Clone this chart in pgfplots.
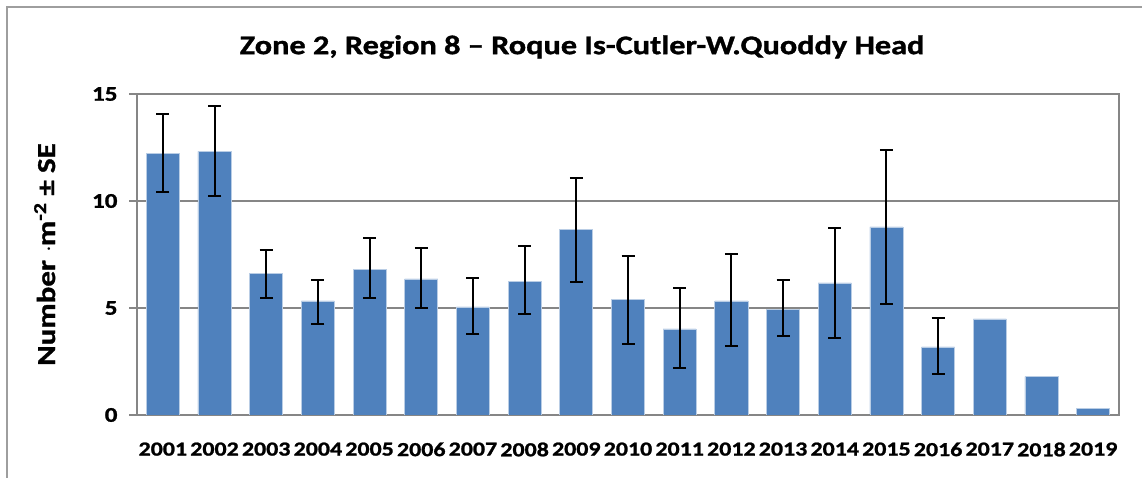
\documentclass[border=0pt]{standalone}
\usepackage{pgfplots}
\pgfplotsset{compat=1.18}
\usepackage{fontspec}
\setmainfont[FakeStretch=1.2, BoldFeatures={FakeBold=1.2}]{Carlito}
\definecolor{barblue}{RGB}{79,129,189}
\definecolor{baredge}{RGB}{185,205,229}
\definecolor{gridgray}{RGB}{134,134,134}
\begin{document}
\begin{tikzpicture}
\path[use as bounding box] (0,0) rectangle (1142bp,478bp);
\draw[gridgray!80, line width=1.5bp] (7bp,0) -- (7bp,471bp) -- (1142bp,471bp);
\node[font=\bfseries\fontsize{27}{31}\selectfont, anchor=center] at (582bp,431bp) {Zone 2, Region 8 – Roque Is-Cutler-W.Quoddy Head};
\begin{axis}[
  at={(137bp,63bp)}, anchor=south west,
  scale only axis, width=982bp, height=321bp,
  xmin=-0.5, xmax=18.5, ymin=0, ymax=15,
  ybar, bar width=0.64, bar shift=0pt,
  xtick={0,...,18},
  xticklabels={2001,2002,2003,2004,2005,2006,2007,2008,2009,2010,2011,2012,2013,2014,2015,2016,2017,2018,2019},
  xtick style={draw=none},
  x tick label style={font=\bfseries\fontsize{20}{24}\selectfont, yshift=-16bp},
  ytick={0,5,10,15},
  ytick pos=left, tick align=outside, major tick length=8bp,
  y tick label style={font=\bfseries\fontsize{21}{25}\selectfont, xshift=-8bp},
  /pgf/number format/assume math mode=true,
  ymajorgrids, grid style={gridgray, line width=1.5bp},
  axis line style={gridgray, line width=1.5bp},
  tick style={gridgray, line width=1.5bp},
  ylabel={Number $\cdot$m\textsuperscript{-2} ± SE},
  ylabel style={font=\bfseries\fontsize{26}{30}\selectfont, at={(axis description cs:-0.094,0.5)}, anchor=center},
]
\addplot[fill=barblue, draw=baredge, line width=0.75bp,
  error bars/.cd, y dir=both, y explicit,
  error bar style={black, line width=2bp},
  error mark options={rotate=90, mark size=6.5bp, line width=2bp, black}]
coordinates {
(0,12.23) += (0,1.82) -= (0,1.81)
(1,12.32) += (0,2.12) -= (0,2.07)
(2,6.62) += (0,1.11) -= (0,1.14)
(3,5.33) += (0,0.99) -= (0,1.06)
(4,6.82) += (0,1.45) -= (0,1.34)
(5,6.36) += (0,1.46) -= (0,1.35)
(6,5.05) += (0,1.37) -= (0,1.25)
(7,6.26) += (0,1.65) -= (0,1.52)
(8,8.69) += (0,2.40) -= (0,2.48)
(9,5.42) += (0,2.02) -= (0,2.09)
(10,4.02) += (0,1.93) -= (0,1.81)
(11,5.33) += (0,2.21) -= (0,2.09)
(12,4.95) += (0,1.37) -= (0,1.24)
(13,6.17) += (0,2.57) -= (0,2.56)
(14,8.79) += (0,3.59) -= (0,3.60)
(15,3.18) += (0,1.37) -= (0,1.25)
};
\addplot[fill=barblue, draw=baredge, line width=0.75bp]
coordinates {
(16,4.49)
(17,1.79)
(18,0.30)
};
\end{axis}
\end{tikzpicture}
\end{document}
